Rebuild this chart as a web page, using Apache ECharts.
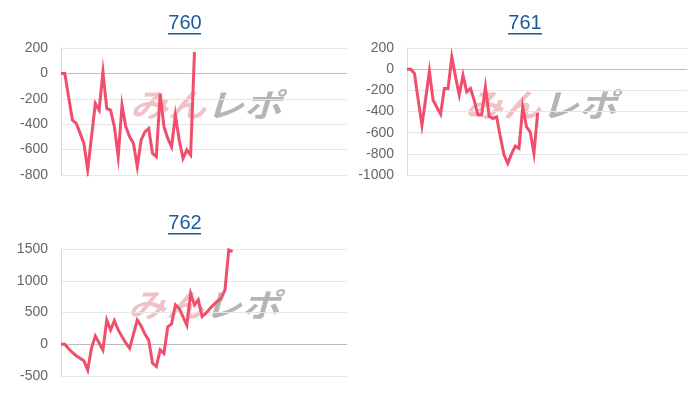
<!DOCTYPE html>
<html>
<head>
<meta charset="utf-8">
<script src="https://cdn.jsdelivr.net/npm/echarts@6/dist/echarts.min.js"></script>
<style>
html,body{margin:0;padding:0;background:#fff;}
#c{width:700px;height:400px;}
</style>
</head>
<body>
<div id="c"></div>
<script>
// ---- data ----
var titles = ['760', '761', '762'];
var categoryCount = 76;
var categories = [];
for (var k = 1; k <= categoryCount; k++) categories.push(String(k));

var series760 = [0, 0, -185, -368, -394, -470, -551, -760, -500, -237,
  -289, 11, -276, -289, -420, -656, -250, -420, -499, -551,
  -734, -525, -460, -433, -630, -656, -158, -420, -512, -578,
  -329, -525, -669, -603, -643, 169];
var series761 = [0, 0, -41, -290, -529, -280, -20, -293, -360, -425,
  -183, -183, 115, -73, -246, -58, -215, -183, -293, -434,
  -434, -168, -445, -466, -450, -639, -811, -890, -800, -727,
  -748, -356, -545, -592, -796, -413];
var series762 = [0, 0, -70, -130, -180, -220, -260, -406, -60, 130,
  20, -90, 380, 225, 370, 225, 120, 20, -65, 160,
  380, 290, 160, 65, -300, -350, -90, -145, 275, 320,
  620, 565, 430, 300, 800, 620, 700, 435, 490, 560,
  620, 680, 720, 855, 1485, 1460];

var yTicks760 = {min: -800, max: 200, interval: 200};
var yTicks761 = {min: -1000, max: 200, interval: 200};
var yTicks762 = {min: -500, max: 1500, interval: 500};

// ---- layout ----
var panels = [
  {grid: {left: 61, top: 48, width: 286, height: 127}, ticks: yTicks760, data: series760, titleX: 185, titleY: 13, wm: [206, 105]},
  {grid: {left: 407, top: 48, width: 280, height: 127}, ticks: yTicks761, data: series761, titleX: 525, titleY: 13, wm: [541, 105]},
  {grid: {left: 61, top: 249, width: 286, height: 127}, ticks: yTicks762, data: series762, titleX: 185, titleY: 213, wm: [204, 305]}
];

var lineColor = '#f04e6c';
var font = '"Liberation Sans", Arial, sans-serif';

var option = {
  animation: false,
  title: [], grid: [], xAxis: [], yAxis: [], series: [], graphic: []
};

panels.forEach(function (p, i) {
  option.title.push({
    text: titles[i], left: p.titleX, top: p.titleY, textAlign: 'center', padding: 0,
    textStyle: {color: '#1a5a9a', fontSize: 20, fontWeight: 'normal', fontFamily: font}
  });
  option.grid.push(p.grid);
  option.xAxis.push({
    type: 'category', gridIndex: i, data: categories, boundaryGap: false,
    axisLabel: {show: false}, axisTick: {show: false},
    axisLine: {show: true, lineStyle: {color: '#d9d9d9', width: 1}},
    splitLine: {show: false}
  });
  option.yAxis.push({
    type: 'value', gridIndex: i, min: p.ticks.min, max: p.ticks.max, interval: p.ticks.interval,
    axisLine: {show: true, lineStyle: {color: '#d9d9d9', width: 1}},
    axisTick: {show: false},
    axisLabel: {color: '#666', fontSize: 14, fontFamily: font, margin: 13,
      formatter: function (v) { return String(v); }},
    splitLine: {show: true, lineStyle: {color: '#e6e6e6', width: 1}}
  });
  option.series.push({
    type: 'line', xAxisIndex: i, yAxisIndex: i, data: p.data,
    showSymbol: false, symbol: 'none', smooth: false, z: 5,
    lineStyle: {color: lineColor, width: 3, join: 'miter'},
    markLine: {
      silent: true, symbol: 'none', label: {show: false},
      lineStyle: {color: '#bdbdbd', type: 'solid', width: 1},
      data: [{yAxis: 0}], z: 1
    }
  });
  // watermark
  option.graphic.push({
    type: 'text', x: p.wm[0], y: p.wm[1], z: 0, scaleY: 0.85, silent: true,
    style: {
      text: '{a|みん}{b|レポ}',
      align: 'center', verticalAlign: 'middle',
      rich: {
        a: {fontSize: 38, fontWeight: 'bold', fontStyle: 'italic', fontFamily: '"Noto Sans CJK JP"', fill: 'rgba(222,120,128,0.45)'},
        b: {fontSize: 38, fontWeight: 'bold', fontStyle: 'italic', fontFamily: '"Noto Sans CJK JP"', fill: 'rgba(150,150,150,0.7)'}
      }
    }
  });
});

// title underlines (links)
[[168, 201, 33], [508, 542, 33], [168, 201, 233]].forEach(function (u) {
  option.graphic.push({
    type: 'rect', silent: true, shape: {x: u[0], y: u[2], width: u[1] - u[0], height: 1.5},
    style: {fill: '#1a5a9a'}
  });
});

var chart = echarts.init(document.getElementById('c'), null, {renderer: 'canvas'});
chart.setOption(option);
</script>
</body>
</html>
